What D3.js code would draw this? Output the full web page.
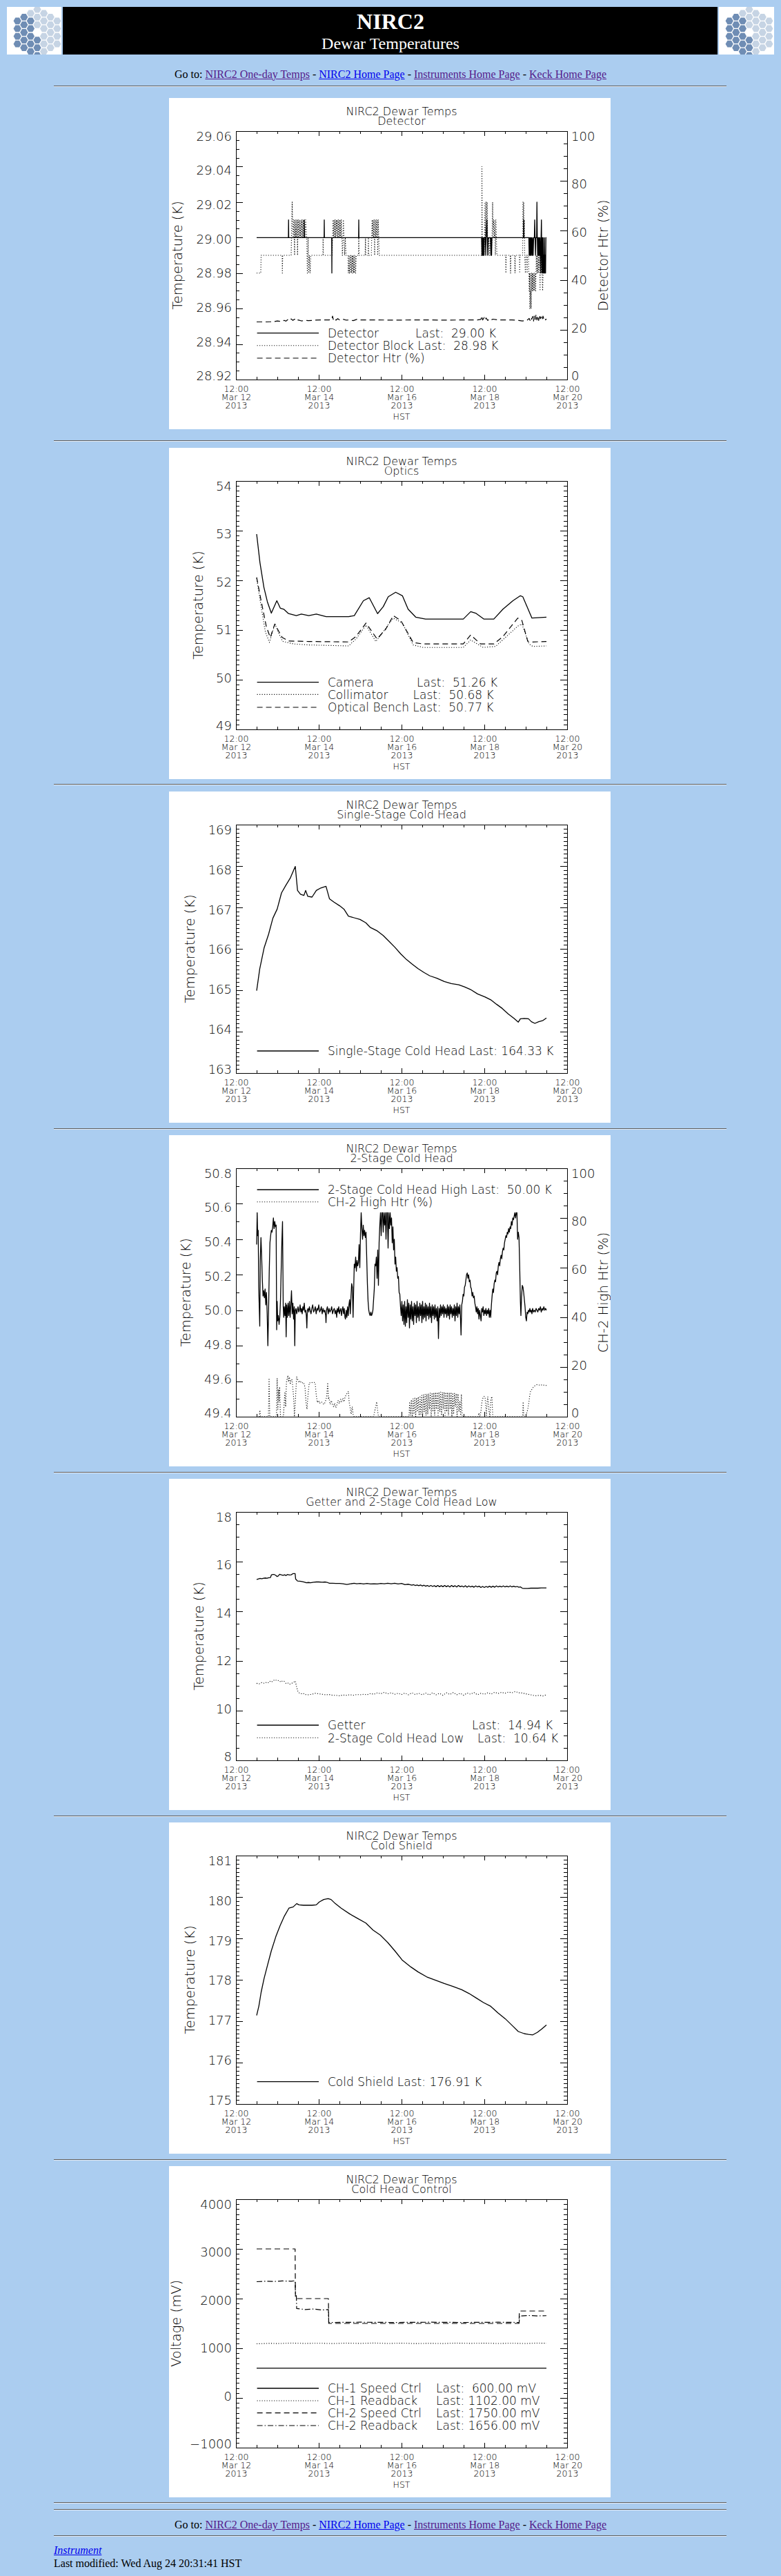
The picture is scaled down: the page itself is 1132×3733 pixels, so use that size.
<!DOCTYPE html>
<html><head><meta charset="utf-8">
<script src="https://cdn.jsdelivr.net/npm/d3@7"></script>
<style>
html,body{margin:0;padding:0;background:#abcdf0;}
#page{position:relative;width:1132px;height:3733px;background:#abcdf0;font-family:"Liberation Serif","Times New Roman",serif;color:#000;overflow:hidden}
.abs{position:absolute}
.hr{position:absolute;left:78px;width:975px;height:0;border-top:1px solid #5e5e5e;border-bottom:1px solid #e4ecf6}
.nav{position:absolute;left:0;width:1132px;text-align:center;font-size:16px;line-height:16px;white-space:nowrap}
a.v{color:#551a8b} a.u{color:#0000ee}
.panel{position:absolute;left:245px;width:640px;height:480px;background:#fff}
svg text{font-family:"DejaVu Sans",sans-serif;font-weight:200;fill:#000;white-space:pre}
.tick line,.frame{shape-rendering:crispEdges}
.ttl{font-size:16px;text-anchor:middle}
.xl{font-size:12.5px}
.yl{font-size:18px}
.yt{font-size:19.5px;text-anchor:middle}
.lg{font-size:17px}
</style></head>
<body>
<div id="page">
  <div class="abs" style="left:10px;top:10px;width:79px;height:69px;background:#fff"><svg id="logoL" width="79" height="69"></svg></div>
  <div class="abs" style="left:91px;top:10px;width:949px;height:69px;background:#000"></div>
  <div class="abs" style="left:1042px;top:10px;width:80px;height:69px;background:#fff"><svg id="logoR" width="80" height="69"></svg></div>
  <div class="abs" style="left:0;top:15px;width:1132px;text-align:center;font-size:32px;line-height:32px;font-weight:bold;color:#fff">NIRC2</div>
  <div class="abs" style="left:0;top:50.5px;width:1132px;text-align:center;font-size:24px;line-height:24px;color:#fff">Dewar Temperatures</div>
  <div class="nav" style="top:99.5px">Go to: <a class="v" href="#">NIRC2 One-day Temps</a> - <a class="u" href="#">NIRC2 Home Page</a> - <a class="v" href="#">Instruments Home Page</a> - <a class="v" href="#">Keck Home Page</a></div>
  <div class="nav" style="top:3651px">Go to: <a class="v" href="#">NIRC2 One-day Temps</a> - <a class="u" href="#">NIRC2 Home Page</a> - <a class="v" href="#">Instruments Home Page</a> - <a class="v" href="#">Keck Home Page</a></div>
  <div class="abs" style="left:78px;top:3687.5px;font-size:16px;line-height:16px;font-style:italic"><a class="u" href="#">Instrument</a></div>
  <div class="abs" style="left:78px;top:3707px;font-size:16px;line-height:16px;white-space:nowrap">Last modified: Wed Aug 24 20:31:41 HST</div>
</div>
<script>
// ---------------- DATA (hours since 2013-03-13 00:00 HST, value) ----------------
const detector = [[0,29.00],[18.4,29.00],[18.5,29.01],[18.6,29.00],[27.5,29.00],[27.6,29.01],[27.7,29.00],[39.1,29.00],[39.2,29.01],[39.3,29.00],[43.5,29.00],[43.6,28.98],[43.7,29.00],[59.1,29.00],[59.2,29.01],[59.3,29.00],
[130.4,29.00],[130.6,28.99],[130.8,29.00],[131.0,28.99],[131.2,29.00],[131.4,28.99],[131.6,29.00],[131.8,28.99],[132.0,29.00],[132.6,29.00],[132.8,28.99],[133.0,29.00],[133.5,29.01],[133.7,29.00],[134.0,28.99],[134.2,29.00],[135.6,29.00],[135.8,28.99],[136.0,29.00],[136.2,28.99],[136.4,29.00],
[154.8,29.00],[154.9,29.01],[155.0,29.00],[157.8,29.00],[158.0,28.99],[158.2,29.00],[158.4,28.99],[158.6,29.00],[158.8,28.99],[159.0,29.00],[159.2,28.99],[159.4,29.00],[159.8,28.99],[160.0,29.00],[160.3,28.99],[160.6,29.00],[161.0,29.00],[161.2,29.01],[161.4,29.00],[161.7,28.99],[161.9,29.00],[162.3,29.00],[162.5,29.02],[162.7,29.00],[162.9,28.99],[163.1,29.00],[163.3,28.99],[163.5,29.00],[163.7,28.99],[163.9,29.00],[164.1,28.99],[164.3,29.00],
[164.5,28.99],[164.7,28.98],[164.9,29.00],[165.1,29.01],[165.3,28.99],[165.5,28.98],[165.7,29.00],[165.9,28.98],[166.1,29.00],[166.3,28.98],[166.5,28.99],[166.7,28.98],[166.9,29.00],[167.1,28.98],[167.3,28.99],[167.5,28.98],[167.7,29.00],[168,29.00]];
const detectorBlock = [[0,28.98],[2.4,28.98],[2.6,28.99],[14.8,28.99],[14.9,28.98],[15.1,28.99],[20.0,28.99],[20.2,29.00],[20.4,29.01],[20.6,29.02],[20.8,29.01],
[21.2,29.00],[21.5,29.01],[21.8,29.00],[22.0,28.99],[22.2,29.01],[22.5,29.00],[22.8,29.01],[23.1,29.00],[23.4,29.01],[23.7,28.99],[24.0,29.01],[24.3,29.00],[24.6,29.01],[24.9,29.00],[25.2,29.01],[25.5,29.00],[25.8,29.01],[26.1,29.00],[26.4,29.01],[26.7,29.00],[27.0,29.01],[27.3,29.00],[27.6,29.01],[28.0,29.00],[28.4,29.01],
[29.0,29.00],[29.4,28.98],[29.8,29.00],[30.2,28.98],[30.6,28.99],[31.0,28.98],[31.4,28.99],[38.4,28.99],[38.5,29.00],[38.7,28.99],
[43.8,28.99],[44.0,29.00],[44.3,29.01],[44.6,29.00],[44.9,29.01],[45.2,29.00],[45.5,29.01],[45.8,29.00],[46.1,29.01],[46.4,29.00],[46.7,29.01],[47.0,29.00],[47.3,29.01],[47.6,29.00],[47.9,29.01],[48.2,29.00],[48.5,29.01],[48.8,29.00],[49.1,29.01],[49.4,29.00],[49.7,28.99],[50.0,29.00],[50.3,29.01],[50.6,29.00],[51.0,28.99],[51.4,29.00],[51.8,28.99],
[53.0,28.99],[53.2,28.98],[53.5,28.99],[53.8,28.98],[54.1,28.99],[54.4,28.98],[54.7,28.99],[55.0,28.98],[55.3,28.99],[55.6,28.98],[55.9,28.99],[56.2,28.98],[56.5,28.99],[56.8,28.98],[57.1,28.99],[57.4,28.98],[57.8,28.99],
[59.0,28.99],[59.2,29.00],[59.4,28.99],[62.9,28.99],[63.1,29.00],[63.3,28.99],[64.6,28.99],[64.8,29.00],[65.0,28.99],
[66.5,28.99],[66.7,29.00],[66.9,29.01],[67.2,29.00],[67.5,29.01],[67.8,29.00],[68.1,29.01],[68.4,28.99],[68.7,29.01],[69.0,29.00],[69.3,29.01],[69.6,29.00],[69.9,29.01],[70.2,28.99],[70.5,29.01],[70.8,29.00],[71.1,28.99],
[130.5,28.99],[130.6,29.04],[130.8,29.00],[131.2,28.99],[131.5,29.00],[131.8,28.99],[132.2,29.00],[132.4,29.02],[132.7,29.00],[133.0,29.02],[133.3,29.00],[133.6,29.02],[133.9,29.00],[134.2,28.99],[134.6,29.00],[135.0,28.99],[135.5,29.00],[136.0,28.99],[136.5,29.00],[136.8,29.02],[137.1,29.00],[137.4,29.01],[137.8,29.00],[138.1,29.01],[138.4,28.99],[138.7,29.01],[139.0,29.00],[139.3,28.99],
[144.3,28.99],[144.5,28.98],[144.7,28.99],[147.0,28.99],[147.2,28.98],[147.4,28.99],[149.6,28.99],[149.8,28.98],[150.0,28.99],[152.3,28.99],[152.5,28.98],[152.7,28.99],
[154.2,28.99],[154.4,29.02],[154.6,29.00],[154.8,29.02],[155.0,29.00],[155.2,29.01],[155.4,28.99],[155.8,28.98],[156.0,28.99],[156.6,28.99],[156.8,28.98],[157.0,28.99],
[157.6,28.99],[157.8,28.98],[158.0,28.97],[158.2,28.98],[158.4,28.96],[158.6,28.98],[158.8,28.96],[159.0,28.97],[159.2,28.96],[159.4,28.98],[159.6,28.97],[159.8,28.98],[160.0,28.97],[160.3,28.98],[160.6,28.97],[160.9,28.98],[161.2,28.97],[161.5,28.98],[161.8,28.97],[162.1,28.99],
[162.4,28.98],[162.7,28.99],[163.0,28.98],[163.3,28.99],[163.6,28.98],[164.0,28.99],[164.3,28.97],[164.6,28.99],[164.9,28.98],[165.2,28.99],[165.5,28.98],[165.8,28.97],[166.1,28.98],[166.4,28.99],[166.7,28.98],[167.0,28.99],[167.4,28.98],[168,28.98]];
const detectorHtr = [[0,23.2],[6,23.2],[10,23.3],[12,23.6],[14,23.4],[16,23.8],[17,23.5],[18,24.1],[19,23.7],[20,24.4],[21,23.8],[22,24.3],[23,23.6],[24,24.0],[26,23.6],[28,23.8],[30,23.7],[34,23.9],[38,24.0],[42,24.0],[43.5,24.2],[44,25.5],[44.5,24.0],[45,24.6],[46,23.9],[47,24.5],[48,24.0],[50,24.3],[52,23.9],[54,24.0],[56,23.7],[58,24.2],[60,24.0],[70,24.0],[80,23.9],[90,24.0],[100,24.0],[110,23.9],[120,24.0],[128,24.0],[130,24.2],[130.6,25.6],[131,24.0],[132,25.0],[132.5,24.0],[133,24.8],[134,23.8],[135,24.4],[136,24.0],[137,24.3],[140,24.0],[148,24.0],[152,23.8],[154,23.6],[156,23.7],[157,24.0],[158,24.6],[158.5,23.8],[159,25.0],[159.5,24.2],[160,25.4],[160.5,23.5],[161,25.8],[161.5,24.2],[162,26.2],[162.5,24.0],[163,25.6],[163.5,23.8],[164,26.0],[164.5,24.5],[165,25.2],[165.5,23.9],[166,25.5],[166.5,24.3],[167,24.8],[167.5,24.0],[168,24.4]];

const camera = [[0,52.93],[1.9,52.36],[4.2,51.86],[6.2,51.57],[8.5,51.34],[11.7,51.59],[13.7,51.44],[15.7,51.42],[18.5,51.33],[23.0,51.29],[25.9,51.32],[30.2,51.29],[34.6,51.32],[40.3,51.27],[53.3,51.27],[56.6,51.29],[61.9,51.59],[65.3,51.65],[70.1,51.33],[73.4,51.47],[76.3,51.67],[80.6,51.76],[84.5,51.69],[87.8,51.42],[92.2,51.26],[97.9,51.22],[119.8,51.22],[124.1,51.37],[127.0,51.34],[131.8,51.22],[137.5,51.22],[142.8,51.42],[148.6,51.59],[152.9,51.69],[154.3,51.67],[159.6,51.24],[168,51.26]];
const collimator = [[0,52.04],[2.6,51.47],[5.0,50.97],[7.4,50.75],[10.6,51.12],[13.0,50.92],[15.1,50.77],[21.6,50.72],[30.2,50.70],[53.3,50.68],[57.6,50.82],[63.4,51.10],[69.1,50.77],[73.4,50.97],[79.2,51.24],[84.5,51.14],[90.7,50.70],[96.5,50.65],[119.8,50.65],[124.1,50.80],[131.3,50.65],[138.5,50.67],[144.2,50.85],[151.4,51.08],[153.8,51.12],[157.9,50.72],[160.1,50.67],[168,50.68]];
const opticalBench = [[0,52.06],[2.7,51.57],[5.6,51.07],[7.9,50.85],[10.5,51.12],[14.8,50.85],[18.6,50.78],[30.2,50.77],[53.3,50.76],[57.6,50.87],[63.4,51.14],[69.8,50.82],[74.9,51.02],[79.2,51.29],[83.6,51.19],[90.7,50.75],[96.5,50.72],[119.8,50.72],[124.1,50.90],[129.8,50.72],[137.5,50.72],[142.8,50.87],[151.4,51.24],[153.8,51.19],[157.2,50.77],[160.1,50.76],[168,50.77]];

const singleStage = [[0,164.99],[1.8,165.52],[4.3,166.02],[6.9,166.35],[9.4,166.74],[11.9,166.96],[14.4,167.35],[17.0,167.54],[19.5,167.71],[22.4,167.99],[23.7,167.41],[25.4,167.32],[27.4,167.29],[28.4,167.41],[29.6,167.27],[32.1,167.25],[34.6,167.41],[37.2,167.47],[40.2,167.51],[42.2,167.21],[44.8,167.13],[48.1,167.04],[50.6,166.96],[53.2,166.79],[56.5,166.75],[59.9,166.71],[63.3,166.63],[65.8,166.52],[70.0,166.43],[73.4,166.32],[76.8,166.18],[80.1,166.04],[83.5,165.88],[86.9,165.74],[90.2,165.63],[93.6,165.52],[97.0,165.43],[100.3,165.35],[104.5,165.29],[108.8,165.21],[112.9,165.16],[117.2,165.13],[120.5,165.08],[123.9,165.02],[128.1,164.91],[132.3,164.84],[135.7,164.77],[139.1,164.66],[142.4,164.56],[145.8,164.43],[149.2,164.32],[151.7,164.23],[152.9,164.31],[155.1,164.32],[157.6,164.31],[159.3,164.24],[161.3,164.20],[163.5,164.24],[166.0,164.27],[168,164.33]];

const twoStageHigh = [[0,50.37],[0.3,50.55],[0.6,50.42],[0.9,50.45],[1.2,50.13],[1.5,50.02],[1.8,49.91],[2.1,50.28],[2.5,50.41],[2.9,50.30],[3.3,50.17],[3.7,50.08],[4.1,50.11],[4.5,50.07],[4.9,50.12],[5.3,50.03],[5.7,50.1],[6.1,49.98],[6.5,49.80],[6.9,49.99],[7.3,50.22],[7.7,50.38],[8.1,50.42],[8.5,50.45],[8.9,50.44],[9.3,50.47],[9.7,50.52],[10.1,50.46],[10.5,50.50],[10.9,50.47],[11.3,50.48],[11.6,49.89],[11.9,50.05],[12.2,49.94],[12.6,49.97],[13.0,49.92],[13.4,49.96],[13.8,50.05],[14.2,50.22],[14.6,50.38],[15.0,50.50],[15.4,50.02],[15.7,49.96],[16.0,50.02],[16.4,49.97],[16.8,50.04],[17.1,49.85],[17.4,50.03],[17.8,49.96],[18.2,50.04],[18.6,49.97],[19.0,50.05],[19.4,49.96],[19.8,50.03],[20.2,50.11],[20.6,49.98],[21.0,50.04],[21.4,49.95],[21.8,50.02],[22.1,49.80],[22.4,50.0],[22.8,50.01],[23.2,49.98],[23.6,50.0],[24.0,50.02],[24.4,49.99],[24.8,50.00],[25.2,50.03],[25.6,49.99],[26.0,50.01],[26.4,49.98],[26.8,50.02],[27.2,50.00],[27.6,50.04],[28.0,49.99],[28.4,50.00],[28.8,49.97],[29.1,49.90],[29.4,50.0],[29.8,50.01],[30.2,49.99],[30.6,50.02],[31.0,50.0],[31.5,49.98],[32.0,50.01],[32.5,50.03],[33.0,49.99],[33.5,50.0],[34.0,50.02],[34.5,49.98],[35.0,50.01],[35.5,50.0],[36.0,50.03],[36.5,49.99],[37.0,50.0],[37.5,50.02],[38.0,49.98],[38.5,50.01],[39.0,49.99],[39.5,50.0],[40.0,49.97],[40.2,49.93],[40.5,50.0],[41.0,50.02],[41.5,49.98],[42.0,50.01],[42.5,49.99],[43.0,50.0],[43.5,50.02],[44.0,49.98],[44.5,50.0],[45.0,50.01],[45.5,49.98],[46.0,50.0],[46.4,49.96],[46.8,50.01],[47.2,49.99],[47.6,50.02],[48.0,49.98],[48.4,50.0],[48.8,50.01],[49.2,49.97],[49.6,50.0],[50.0,50.02],[50.4,49.98],[50.8,50.01],[51.2,49.96],[51.5,49.95],[51.9,50.0],[52.3,49.96],[52.7,50.02],[53.1,49.97],[53.5,50.03],[53.9,50.06],[54.3,49.98],[54.7,50.08],[55.1,50.15],[55.5,50.13],[55.9,49.96],[56.2,50.10],[56.6,50.26],[57.0,50.24],[57.4,50.30],[57.8,50.22],[58.2,50.28],[58.6,50.25],[59.0,50.27],[59.4,50.37],[59.8,50.24],[60.2,50.43],[60.6,50.55],[61.0,50.46],[61.4,50.40],[61.8,50.48],[62.2,50.42],[62.6,50.45],[63.0,50.41],[63.4,50.44],[63.8,50.30],[64.2,50.15],[64.6,50.05],[65.0,50.0],[65.4,49.98],[65.8,49.97],[66.2,49.99],[66.6,49.97],[67.0,49.98],[67.4,50.0],[67.8,50.06],[68.2,50.12],[68.6,50.26],[69.0,50.25],[69.4,50.30],[69.8,50.18],[70.2,50.34],[70.6,50.14],[71.0,50.38],[71.4,50.48],[71.8,50.55],[72.2,50.42],[72.6,50.55],[73.0,50.55],[73.4,50.44],[73.8,50.55],[74.2,50.48],[74.6,50.55],[75.0,50.40],[75.4,50.55],[75.8,50.55],[76.2,50.35],[76.6,50.55],[77.0,50.46],[77.4,50.55],[77.8,50.48],[78.2,50.52],[78.6,50.38],[79.0,50.47],[79.4,50.34],[79.8,50.40],[80.2,50.26],[80.6,50.30],[81.0,50.22],[81.4,50.24],[81.8,50.18],[82.2,50.19],[82.6,50.10],[83.0,50.09],[83.4,50.02],[83.8,49.97],[84.2,50.05],[84.6,49.94],[85.0,50.03],[85.4,49.92],[85.8,50.05],[86.2,49.91],[86.6,50.02],[87.0,49.93],[87.4,50.06],[87.8,49.96],[88.2,50.04],[88.6,49.90],[89.0,50.03],[89.4,49.95],[89.8,50.05],[90.2,49.94],[90.6,50.02],[91.0,49.92],[91.4,50.04],[91.8,49.97],[92.2,50.03],[92.6,49.93],[93.0,50.05],[93.4,49.96],[93.8,50.02],[94.2,49.94],[94.6,50.04],[95.0,49.97],[95.4,50.03],[95.8,49.93],[96.2,50.05],[96.6,49.95],[97.0,50.02],[97.4,49.96],[97.8,50.04],[98.2,49.94],[98.6,50.03],[99.0,49.97],[99.4,50.02],[99.8,49.95],[100.2,50.04],[100.6,49.96],[101.0,50.02],[101.4,49.93],[101.8,50.03],[102.2,49.97],[102.6,50.02],[103.0,49.95],[103.4,50.03],[103.8,49.96],[104.2,50.01],[104.6,49.94],[105.0,50.02],[105.4,49.84],[105.8,50.01],[106.2,49.96],[106.6,50.03],[107.0,49.97],[107.4,50.02],[107.8,49.98],[108.2,50.03],[108.6,49.96],[109.0,50.02],[109.4,49.98],[109.8,50.01],[110.2,49.96],[110.6,50.03],[111.0,49.97],[111.4,50.02],[111.8,49.95],[112.2,50.03],[112.6,49.98],[113.0,50.02],[113.4,49.96],[113.8,50.01],[114.2,49.97],[114.6,50.03],[115.0,49.94],[115.4,50.02],[115.8,49.97],[116.2,50.04],[116.6,49.96],[117.0,50.02],[117.4,49.98],[117.8,50.03],[118.2,49.95],[118.5,49.86],[118.9,50.03],[119.3,50.05],[119.7,50.09],[120.1,50.08],[120.5,50.13],[120.9,50.14],[121.3,50.17],[121.7,50.20],[122.1,50.21],[122.5,50.18],[122.9,50.20],[123.3,50.16],[123.7,50.17],[124.1,50.13],[124.5,50.12],[124.9,50.08],[125.3,50.10],[125.7,50.07],[126.1,50.08],[126.5,50.04],[126.9,50.02],[127.3,49.99],[127.7,50.02],[128.1,49.98],[128.5,50.01],[128.9,49.95],[129.3,50.0],[129.7,49.97],[130.1,49.94],[130.5,50.01],[130.9,49.99],[131.3,50.02],[131.7,49.97],[132.1,50.0],[132.5,49.98],[132.9,50.01],[133.3,49.97],[133.7,50.0],[134.1,49.98],[134.5,50.01],[134.9,49.96],[135.3,50.0],[135.7,49.96],[136.1,50.03],[136.5,50.08],[136.9,50.12],[137.3,50.10],[137.7,50.15],[138.1,50.17],[138.5,50.16],[138.9,50.21],[139.3,50.22],[139.7,50.20],[140.1,50.25],[140.5,50.27],[140.9,50.25],[141.3,50.29],[141.7,50.31],[142.1,50.29],[142.5,50.33],[142.9,50.35],[143.3,50.34],[143.7,50.38],[144.1,50.40],[144.5,50.42],[144.9,50.41],[145.3,50.44],[145.7,50.43],[146.1,50.46],[146.5,50.44],[146.9,50.47],[147.3,50.46],[147.7,50.50],[148.1,50.48],[148.5,50.52],[148.9,50.51],[149.3,50.53],[149.7,50.55],[150.1,50.52],[150.5,50.55],[150.9,50.55],[151.3,50.40],[151.7,50.44],[152.1,50.41],[152.5,50.25],[152.9,50.05],[153.2,49.97],[153.6,50.08],[154.0,50.14],[154.4,50.13],[154.8,50.10],[155.2,50.06],[155.6,50.02],[156.0,49.96],[156.4,49.94],[156.8,49.99],[157.2,49.98],[157.6,50.0],[158.0,49.99],[158.4,50.01],[158.8,49.99],[159.2,50.0],[159.6,49.98],[160.0,50.01],[160.5,49.99],[161.0,50.0],[161.5,49.99],[162.0,50.01],[162.5,50.0],[163.0,49.99],[163.5,50.01],[164.0,50.0],[164.5,50.02],[165.0,49.99],[165.5,50.01],[166.0,50.0],[166.5,50.02],[167.0,50.0],[167.5,50.01],[168,50.00]];
const ch2HighHtr = [[0,0],[1.5,0],[1.9,2.6],[2.2,0],[6.8,0],[7.2,15.5],[7.6,0],[11.5,0],[11.9,15.5],[12.3,3],[12.7,11],[13.0,6],[13.3,12],[13.8,0],[15.5,0],[16.0,6],[16.4,10],[16.8,4],[17.3,14],[18.1,16.6],[18.5,14],[19.0,16],[19.5,13],[20.0,15],[20.6,14.8],[21.4,8],[21.9,0],[22.4,6],[23.2,16.0],[23.8,15],[24.5,13.7],[25.2,14.5],[26.0,13.5],[27.2,13.8],[28.0,12],[28.6,6],[29.2,3],[29.8,9],[30.5,13.7],[31.5,13.5],[32.5,13.9],[33.9,13.7],[34.5,9],[35.2,5.7],[36.0,6.5],[36.5,5.4],[37.5,6],[38.5,5.2],[39.2,5.0],[40.0,6.5],[40.6,8],[41.2,13.7],[41.6,7],[41.9,7.6],[42.6,5],[43.3,6.5],[44.0,4.8],[44.6,4],[45.2,5.5],[45.9,3.6],[46.6,5],[47.2,6.5],[47.9,5.3],[48.6,7],[49.2,6],[50.0,7.5],[50.6,6],[51.3,8],[52.0,9],[52.6,9.5],[53.2,10.2],[53.6,6],[54.2,3.6],[54.8,1],[55.4,4],[56.0,0.5],[56.5,0],
[67.8,0],[68.4,2],[69.0,4],[69.6,6.0],[70.2,2],[70.6,0],
[88.3,0],[88.7,6],[89.2,0.5],[89.7,6.8],[90.2,0],[90.7,7.2],[91.2,1],[91.7,7.5],[92.2,0],[92.7,7.6],[93.2,2],[93.7,8],[94.2,0.5],[94.7,8.4],[95.2,1],[95.7,8.6],[96.2,0],[96.7,8.8],[97.2,2],[97.7,9],[98.2,0.5],[98.7,9.2],[99.2,1],[99.7,9.3],[100.2,3],[100.7,9.5],[101.2,0],[101.7,9.6],[102.2,2],[102.7,9.7],[103.2,0.5],[103.7,9.8],[104.2,3],[104.7,9.8],[105.2,0],[105.7,9.9],[106.2,2],[106.7,9.9],[107.2,0.5],[107.7,9.8],[108.2,3],[108.7,9.9],[109.2,0],[109.7,9.8],[110.2,2],[110.7,9.8],[111.2,0.5],[111.7,9.7],[112.2,3],[112.7,9.8],[113.2,0],[113.7,9.6],[114.2,1],[114.7,9.5],[115.2,4],[115.7,9.3],[116.2,0],[116.7,9.2],[117.3,2],[117.8,6],[118.3,0.5],[118.7,9.0],[119.2,0],
[128.3,0],[128.8,1.5],[129.4,0],[130.0,2],[130.6,6],[131.2,7.5],[131.8,8.2],[132.4,8.0],[132.8,4],[133.2,0.5],[133.6,6],[134.0,8],[134.6,3],[135.2,0],[135.8,7],[136.4,8.1],[136.9,0],
[154.2,0],[154.5,6.0],[154.9,0],[156.0,0],[156.6,1.5],[157.2,3],[157.8,5.6],[158.3,8.5],[158.8,10.2],[159.4,10.8],[160.0,11.5],[160.8,12.2],[161.6,12.6],[162.5,12.9],[163.5,12.8],[164.5,12.6],[165.5,12.9],[166.5,12.7],[167.3,12.6],[168,12.6]];

const getter = [[0,15.28],[1,15.30],[2,15.32],[3,15.31],[4,15.33],[5,15.34],[6,15.33],[7,15.35],[8,15.36],[8.6,15.47],[9.5,15.48],[10.2,15.48],[11,15.45],[11.8,15.40],[12.5,15.42],[13.3,15.49],[14.2,15.47],[15.3,15.45],[16.2,15.47],[17.0,15.44],[17.8,15.48],[19,15.46],[20,15.47],[21.2,15.52],[22.3,15.52],[22.6,15.30],[23.7,15.22],[25,15.21],[26.2,15.20],[27.5,15.18],[28.8,15.15],[30,15.16],[31.3,15.15],[33,15.17],[34.6,15.18],[36,15.18],[38,15.17],[39.8,15.18],[41,15.16],[42.2,15.13],[44,15.13],[46,15.12],[48.1,15.12],[50,15.11],[52.3,15.08],[54,15.10],[56.5,15.13],[58,15.11],[60,15.12],[62,15.10],[64,15.12],[66,15.10],[68,15.11],[70,15.10],[72,15.12],[74,15.11],[76,15.13],[78,15.11],[80,15.13],[82,15.10],[84,15.12],[86,15.07],[88,15.09],[90,15.05],[91,15.07],[92,15.04],[93,15.06],[94,15.03],[95,15.06],[96,15.02],[97,15.05],[98,15.01],[99,15.04],[100,15.0],[101,15.04],[102,15.0],[103,15.03],[104,14.99],[105,15.04],[106,14.99],[107,15.03],[108,14.99],[109,15.04],[110,14.99],[111,15.03],[112,14.98],[113,15.04],[114,14.99],[115,15.03],[116,14.98],[117,15.04],[118,14.99],[119,15.02],[120,14.98],[121,15.03],[122,14.97],[123,15.02],[124,14.98],[125,15.01],[126,14.97],[127,15.02],[128,14.98],[129,15.01],[130,14.96],[131,15.0],[132,14.96],[133,15.0],[134,14.97],[135,15.01],[136,14.97],[137,15.01],[138,14.97],[139,15.02],[140,14.98],[141,15.01],[142,14.98],[143,15.02],[144,14.98],[145,15.01],[146,14.98],[147,15.02],[148,14.98],[149,15.01],[150,14.98],[151,15.0],[152,14.97],[153,14.98],[154,14.93],[155,14.92],[157,14.92],[159,14.93],[161,14.93],[163,14.93],[165,14.94],[167,14.94],[168,14.94]];
const twoStageLow = [[0,11.1],[1.5,11.08],[3,11.13],[4.5,11.1],[6,11.15],[7,11.12],[8,11.2],[9,11.17],[10.5,11.25],[12,11.2],[13,11.22],[14,11.15],[15,11.2],[16,11.18],[17,11.1],[18,11.12],[19,11.06],[20,11.1],[21,11.12],[22.4,11.2],[23,11.0],[24,10.75],[25,10.7],[26,10.68],[27,10.7],[28,10.65],[30,10.64],[32,10.66],[34,10.7],[36,10.68],[38,10.66],[40,10.64],[42,10.65],[44,10.62],[46,10.62],[48,10.6],[50,10.63],[52,10.62],[54,10.64],[56,10.62],[58,10.65],[60,10.64],[62,10.66],[64,10.64],[66,10.69],[68,10.66],[70,10.72],[72,10.68],[74,10.74],[76,10.68],[78,10.72],[80,10.66],[82,10.70],[84,10.65],[86,10.71],[88,10.64],[90,10.72],[92,10.65],[94,10.70],[96,10.64],[98,10.71],[100,10.63],[102,10.72],[104,10.64],[106,10.70],[108,10.62],[110,10.72],[112,10.65],[114,10.73],[116,10.64],[118,10.70],[120,10.62],[122,10.71],[124,10.66],[126,10.73],[128,10.64],[130,10.70],[132,10.66],[134,10.72],[136,10.67],[138,10.74],[140,10.69],[142,10.74],[144,10.70],[146,10.75],[148,10.72],[150,10.77],[152,10.72],[154,10.71],[156,10.68],[158,10.65],[160,10.62],[162,10.60],[164,10.62],[166,10.59],[168,10.64]];

const coldShield = [[0,177.14],[1.3,177.37],[2.6,177.70],[4.3,178.03],[6.4,178.37],[8.5,178.70],[11.1,179.04],[13.6,179.31],[16.1,179.54],[18.7,179.73],[21.2,179.76],[23.2,179.84],[24.5,179.81],[27.1,179.80],[29.6,179.80],[32.1,179.80],[34.6,179.81],[36.3,179.88],[38.9,179.94],[41.4,179.96],[43.1,179.94],[45.6,179.84],[49.0,179.73],[54.0,179.59],[58.2,179.49],[63.3,179.37],[67.5,179.20],[71.7,179.08],[76.0,178.90],[80.1,178.70],[84.3,178.48],[89.4,178.31],[93.6,178.19],[98.6,178.07],[103.7,177.99],[108.8,177.91],[113.8,177.84],[118.9,177.76],[123.1,177.67],[127.3,177.56],[131.5,177.45],[135.7,177.36],[139.9,177.20],[144.1,177.06],[148.3,176.89],[151.7,176.75],[155.1,176.70],[157.6,176.68],[160.1,176.67],[162.7,176.73],[165.2,176.81],[168,176.91]];

const ch1SpeedCtrl = [[0,600],[168,600]];
const ch1Readback = [[0,1090],[8,1100],[12,1095],[20,1105],[28,1098],[36,1102],[44,1095],[52,1104],[60,1098],[68,1106],[76,1097],[84,1103],[92,1095],[100,1100],[108,1096],[116,1104],[124,1099],[132,1103],[140,1097],[148,1102],[156,1096],[162,1104],[168,1102]];
const ch2SpeedCtrl = [[0,3000],[22.3,3000],[22.5,2000],[41.6,2000],[41.8,1500],[152.1,1500],[152.3,1750],[168,1750]];
const ch2Readback = [[0,2340],[5,2350],[10,2345],[15,2355],[20,2350],[22.3,2360],[22.5,2100],[23.0,2080],[23.2,1800],[28,1780],[33,1790],[38,1770],[41.6,1780],[41.8,1520],[60,1525],[80,1520],[100,1525],[120,1520],[140,1525],[152.2,1520],[152.4,1650],[158,1660],[163,1652],[168,1656]];

// tick label values
const ticksDetector = [28.92,28.94,28.96,28.98,29.00,29.02,29.04,29.06];
const ticksPct = [0,20,40,60,80,100];
const ticksOptics = [49,50,51,52,53,54];
const ticksSingle = [163,164,165,166,167,168,169];
const ticksTwoHigh = [49.4,49.6,49.8,50.0,50.2,50.4,50.6,50.8];
const ticksGetter = [8,10,12,14,16,18];
const ticksShield = [175,176,177,178,179,180,181];
const ticksVolt = [-1000,0,1000,2000,3000,4000];

// ---------------- RENDER ----------------
const X_START = new Date(Date.UTC(2013,2,12,12));
const X_END = new Date(Date.UTC(2013,2,20,12));
const DATA_T0 = Date.UTC(2013,2,13,0);
const toDate = h => new Date(DATA_T0 + h*3600000);
const fmtHM = d3.utcFormat('%H:%M'), fmtMD = d3.utcFormat('%b %d'), fmtY = d3.utcFormat('%Y');
const P = {l:97, r:577, t:48, b:408};
const STY = {solid:{dash:null,w:1.3}, dotted:{dash:'1.1,2.4',w:1.1}, dashed:{dash:'8,5',w:1.2}, dashdot:{dash:'8,3,1.5,3',w:1.2}};

function minorTicks(dom, step){ const n=Math.round((dom[1]-dom[0])/step); return d3.range(n+1).map(i=>+(dom[0]+i*step).toFixed(6)); }
const clean = g => { g.attr('font-family',null).attr('font-size',null); g.select('.domain').remove(); };

function drawChart(cfg, idx){
  const panel = d3.select('#page').append('div').attr('class','panel').style('top',cfg.top+'px');
  const svg = panel.append('svg').attr('width',640).attr('height',480);
  const x = d3.scaleUtc().domain([X_START,X_END]).range([P.l,P.r]);
  const y = d3.scaleLinear().domain(cfg.yDomain).range([P.b,P.t]);
  const y2 = cfg.y2 ? d3.scaleLinear().domain(cfg.y2.domain).range([P.b,P.t]) : null;
  const cx = (P.l+P.r)/2, cy = (P.t+P.b)/2;

  svg.append('text').attr('class','ttl').attr('x',cx).attr('y',24.5).text('NIRC2 Dewar Temps');
  svg.append('text').attr('class','ttl').attr('x',cx).attr('y',38.5).text(cfg.subtitle);

  const clipId = 'clip'+idx;
  svg.append('clipPath').attr('id',clipId).append('rect').attr('x',P.l).attr('y',P.t).attr('width',P.r-P.l).attr('height',P.b-P.t);
  cfg.series.forEach(s=>{
    const sc = s.right ? y2 : y; const st = STY[s.style];
    svg.append('path').datum(s.data).attr('clip-path',`url(#${clipId})`).attr('fill','none').attr('stroke','#000')
      .attr('stroke-width',st.w).attr('stroke-dasharray',st.dash).attr('stroke-linejoin','round')
      .attr('d', d3.line().x(d=>x(toDate(d[0]))).y(d=>sc(d[1])));
  });

  const xMaj = d3.range(5).map(i=>d3.utcHour.offset(X_START,48*i));
  const xMin = d3.range(17).map(i=>d3.utcHour.offset(X_START,12*i));
  const ax = (gen, tx, ty) => svg.append('g').attr('transform',`translate(${tx},${ty})`).call(gen).call(clean);
  ax(d3.axisBottom(x).tickValues(xMin).tickSize(-3.6).tickSizeOuter(0).tickFormat(''),0,P.b);
  const gxb = ax(d3.axisBottom(x).tickValues(xMaj).tickSize(-7).tickSizeOuter(0).tickFormat(fmtHM),0,P.b);
  gxb.selectAll('.tick text').attr('class','xl').attr('dy',null).attr('y',null).each(function(d){
    const t=d3.select(this).text(null);
    [fmtHM(d),fmtMD(d),fmtY(d)].forEach((s,i)=>t.append('tspan').attr('x',0).attr('y',18.4+i*11.8).text(s));
  });
  ax(d3.axisTop(x).tickValues(xMin).tickSize(-3.6).tickSizeOuter(0).tickFormat(''),0,P.t);
  ax(d3.axisTop(x).tickValues(xMaj).tickSize(-7).tickSizeOuter(0).tickFormat(''),0,P.t);

  const shift = sc => d => (cy - sc(d))*0.035 + 0.5;
  ax(d3.axisLeft(y).tickValues(minorTicks(cfg.yDomain,cfg.yMinor)).tickSize(-5).tickSizeOuter(0).tickFormat(''),P.l,0);
  const gyl = ax(d3.axisLeft(y).tickValues(cfg.yTicks).tickSize(-10).tickSizeOuter(0).tickPadding(6).tickFormat(d3.format(cfg.yFmt)),P.l,0);
  gyl.selectAll('.tick text').attr('class','yl').attr('dy','0.36em').attr('y',shift(y));
  if (y2){
    ax(d3.axisRight(y2).tickValues(minorTicks(cfg.y2.domain,cfg.y2.minor)).tickSize(-5).tickSizeOuter(0).tickFormat(''),P.r,0);
    const gyr = ax(d3.axisRight(y2).tickValues(cfg.y2.ticks).tickSize(-10).tickSizeOuter(0).tickPadding(6).tickFormat(d3.format('d')),P.r,0);
    gyr.selectAll('.tick text').attr('class','yl').attr('dy','0.36em').attr('y',shift(y2));
  } else {
    ax(d3.axisRight(y).tickValues(minorTicks(cfg.yDomain,cfg.yMinor)).tickSize(-5).tickSizeOuter(0).tickFormat(''),P.r,0);
    ax(d3.axisRight(y).tickValues(cfg.yTicks).tickSize(-10).tickSizeOuter(0).tickFormat(''),P.r,0);
  }
  svg.append('rect').attr('class','frame').attr('x',P.l).attr('y',P.t).attr('width',P.r-P.l).attr('height',P.b-P.t).attr('fill','none').attr('stroke','#000').attr('stroke-width',1);

  svg.append('text').attr('class','yt').attr('transform',`translate(${cfg.ytx},${cy}) rotate(-90)`).attr('dy','0.36em').text(cfg.ytitle);
  if (y2) svg.append('text').attr('class','yt').attr('transform',`translate(${cfg.y2.tx},${cy}) rotate(-90)`).attr('dy','0.36em').text(cfg.y2.title);
  svg.append('text').attr('class','xl').attr('x',cx).attr('y',465.5).attr('text-anchor','middle').text('HST');

  cfg.legend.forEach((it,i)=>{
    const ly = cfg.legendY[i]; const st = STY[it.style];
    svg.append('line').attr('x1',127.6).attr('x2',217).attr('y1',ly).attr('y2',ly).attr('stroke','#000').attr('stroke-width',st.w).attr('stroke-dasharray',st.dash);
    svg.append('text').attr('class','lg').attr('x',230).attr('y',ly+6.2).text(it.label);
    if (it.last) svg.append('text').attr('class','lg').attr('x',it.lastX).attr('y',ly+6.2).text(it.last);
  });
}

const charts = [
 {top:142, subtitle:'Detector', yDomain:[28.92,29.06], yTicks:ticksDetector, yMinor:0.005, yFmt:'.2f', ytitle:'Temperature (K)', ytx:12,
  y2:{domain:[0,100], ticks:ticksPct, minor:5, title:'Detector Htr (%)', tx:629},
  series:[{data:detectorHtr,style:'dashed',right:true},{data:detectorBlock,style:'dotted'},{data:detector,style:'solid'}],
  legendY:[340.7,358.7,377],
  legend:[{style:'solid',label:'Detector',last:'Last:  29.00 K',lastX:357},{style:'dotted',label:'Detector Block Last:  28.98 K'},{style:'dashed',label:'Detector Htr (%)'}]},
 {top:649, subtitle:'Optics', yDomain:[49,54], yTicks:ticksOptics, yMinor:0.1, yFmt:'d', ytitle:'Temperature (K)', ytx:42,
  series:[{data:collimator,style:'dotted'},{data:opticalBench,style:'dashed'},{data:camera,style:'solid'}],
  legendY:[339.6,357.4,376],
  legend:[{style:'solid',label:'Camera',last:'Last:  51.26 K',lastX:359},{style:'dotted',label:'Collimator',last:'Last:  50.68 K',lastX:353.5},{style:'dashed',label:'Optical Bench Last:  50.77 K'}]},
 {top:1147, subtitle:'Single-Stage Cold Head', yDomain:[163,169], yTicks:ticksSingle, yMinor:0.1, yFmt:'d', ytitle:'Temperature (K)', ytx:30,
  series:[{data:singleStage,style:'solid'}],
  legendY:[376], legend:[{style:'solid',label:'Single-Stage Cold Head Last: 164.33 K'}]},
 {top:1645, subtitle:'2-Stage Cold Head', yDomain:[49.4,50.8], yTicks:ticksTwoHigh, yMinor:0.1, yFmt:'.1f', ytitle:'Temperature (K)', ytx:24,
  y2:{domain:[0,100], ticks:ticksPct, minor:5, title:'CH-2 High Htr (%)', tx:629},
  series:[{data:ch2HighHtr,style:'dotted',right:true},{data:twoStageHigh,style:'solid'}],
  legendY:[79,96.7],
  legend:[{style:'solid',label:'2-Stage Cold Head High Last:  50.00 K'},{style:'dotted',label:'CH-2 High Htr (%)'}]},
 {top:2143, subtitle:'Getter and 2-Stage Cold Head Low', yDomain:[8,18], yTicks:ticksGetter, yMinor:0.5, yFmt:'d', ytitle:'Temperature (K)', ytx:43,
  series:[{data:twoStageLow,style:'dotted'},{data:getter,style:'solid'}],
  legendY:[357,375.3],
  legend:[{style:'solid',label:'Getter',last:'Last:  14.94 K',lastX:439},{style:'dotted',label:'2-Stage Cold Head Low',last:'Last:  10.64 K',lastX:447}]},
 {top:2641, subtitle:'Cold Shield', yDomain:[175,181], yTicks:ticksShield, yMinor:0.1, yFmt:'d', ytitle:'Temperature (K)', ytx:30,
  series:[{data:coldShield,style:'solid'}],
  legendY:[375.7], legend:[{style:'solid',label:'Cold Shield Last: 176.91 K'}]},
 {top:3139, subtitle:'Cold Head Control', yDomain:[-1000,4000], yTicks:ticksVolt, yMinor:100, yFmt:'d', ytitle:'Voltage (mV)', ytx:10,
  series:[{data:ch1SpeedCtrl,style:'solid'},{data:ch1Readback,style:'dotted'},{data:ch2SpeedCtrl,style:'dashed'},{data:ch2Readback,style:'dashdot'}],
  legendY:[322,340,357.7,376],
  legend:[{style:'solid',label:'CH-1 Speed Ctrl',last:'Last:  600.00 mV',lastX:387},{style:'dotted',label:'CH-1 Readback',last:'Last: 1102.00 mV',lastX:387},{style:'dashed',label:'CH-2 Speed Ctrl',last:'Last: 1750.00 mV',lastX:387},{style:'dashdot',label:'CH-2 Readback',last:'Last: 1656.00 mV',lastX:387}]}
];
charts.forEach(drawChart);

// horizontal rules
[125,638.5,1137,1636,2133.5,2632,3130,3627,3637,3675].forEach(t=>{
  d3.select('#page').append('div').attr('class','hr').style('top',(t-1)+'px');
});

// Keck segmented-mirror logos (decorative)
function drawLogo(id){
  const svg = d3.select(id); const r = 6.4; const hh = Math.sqrt(3)*r;
  const cx = 44, cy = 37;
  for (let c=-4;c<=4;c++) for (let rr=-5;rr<=5;rr++){
    const q=c, ra = rr - (c - (c&1))/2, s = -q-ra;
    const dist = Math.max(Math.abs(q),Math.abs(ra),Math.abs(s));
    if (dist>3 || dist===0) continue;
    const px = cx + c*1.5*r, py = cy + rr*hh + ((c&1)? hh/2:0);
    const dark = (px < cx-2 && py > 14) || (py > cy+8 && px < cx+8);
    const pts = d3.range(6).map(i=>{const a=Math.PI/3*i; return [px+r*0.88*Math.cos(a), py+r*0.88*Math.sin(a)];});
    svg.append('polygon').attr('points',pts.map(p=>p.join(',')).join(' ')).attr('fill', dark?'#6f8db4':'#c6d4e4');
  }
}
drawLogo('#logoL'); drawLogo('#logoR');
</script>
</body></html>
